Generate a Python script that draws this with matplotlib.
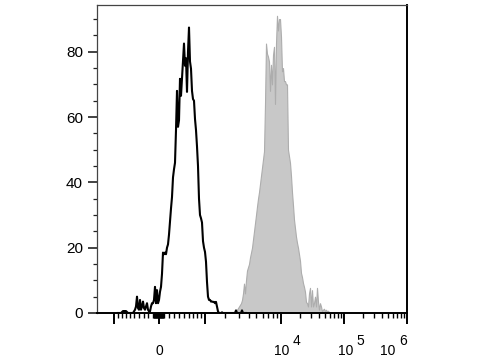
import numpy as np
import matplotlib
matplotlib.use("Agg")
import matplotlib.pyplot as plt
from matplotlib.ticker import FixedLocator, MultipleLocator, NullFormatter

plt.rcParams['font.family'] = ['Liberation Sans', 'DejaVu Sans']

# biex-style axis: display channel (0 = left edge, 310 = right edge) of each value
axis_vals = [-1e4, -1e3, 0, 1e3, 1e4, 1e5, 1e6, 1e7]
axis_chan = [-29, 17, 61.5, 108, 184, 247, 310, 373]
COF = 1000.0
G = np.arcsinh(np.array(axis_vals) / COF)

def to_chan(v):
    return np.interp(np.arcsinh(np.asarray(v, dtype=float) / COF), G, axis_chan)

def to_val(ch):
    return COF * np.sinh(np.interp(np.asarray(ch, dtype=float), axis_chan, G))

# histogram counts, one per display channel
black_start = 21
black_counts = [0, 0, 0, 0, 0.3, 0.6, 0.6, 0.6, 0.6, 0.3,
                0, 0, 0, 0, 0, 0, 0.5, 1, 2, 5,
                1.5, 1, 4, 1, 2, 3.5, 1.5, 1, 2, 3,
                1, 0.5, 0.5, 2, 3, 3, 4, 8, 3, 7,
                3, 4, 6.5, 8, 12, 18.5, 18, 18.5, 18, 20,
                21, 24, 28, 32, 35.5, 41.5, 44, 46, 56, 68,
                57, 59, 71.7, 66.5, 72, 77, 82.5, 75.7, 78, 67.7,
                80, 87.4, 77, 74.8, 68, 65.5, 65, 59.4, 56, 51,
                45, 35, 30, 29, 27.7, 22, 20, 18.7, 15.7, 9.5,
                5, 4, 4, 3.5, 3.5, 3.4, 3.4, 3, 3.4, 2,
                0.5, 0, 0, 0, 0.2, 0, 0, 0, 0, 0,
                0, 0, 0, 0, 0, 0, 0, 0, 0.8, 0,
                0, 0, 0, 0, 0.8, 0, 0, 0, 0]

gray_start = 137
gray_counts = [0, 0, 0.5, 1, 1.5, 2, 2.5, 3, 4, 6,
               9, 6, 10, 13, 14, 15, 17, 18.5, 20, 22.5,
               25, 27.5, 30, 32.6, 35, 37, 39.5, 42, 44.5, 47,
               49.5, 64, 82.5, 79.4, 78.5, 77, 68, 76, 70, 79,
               81.5, 64, 82.5, 91, 86.5, 90, 90, 84.6, 74, 75,
               71, 71, 70, 70, 50, 48, 46, 42, 37, 33,
               28.6, 26, 23.4, 21.5, 20, 18, 16, 12.3, 11, 9.2,
               8, 6.5, 3.4, 3, 2, 6, 7.7, 2, 7, 2,
               3, 5, 2, 7.7, 3.5, 1, 3, 2, 0.5, 1,
               1.3, 0.5, 1, 0.5, 0.7, 0.3, 0]

major_vals = [-1e3, 0, 1e3, 1e4, 1e5, 1e6]
y_ticks = [0, 20, 40, 60, 80]

bx = to_val(black_start + np.arange(len(black_counts)))
gx = to_val(gray_start + np.arange(len(gray_counts)))

fig = plt.figure(figsize=(4.8, 3.6), dpi=100)
ax = fig.add_axes([97/480, 47/360, 310/480, 308/360])
ax.set_xscale('function', functions=(to_chan, to_val))

ax.fill_between(gx, gray_counts, 0, facecolor='#c8c8c8', edgecolor='#adadad', lw=0.8, zorder=2)
ax.plot(bx, black_counts, color='black', lw=1.5, zorder=3)

ax.set_xlim(to_val(0), 1e6)
ax.set_ylim(0, 94.3)

# x ticks
minor = []
for d in [10, 100]:
    minor += [k * d for k in range(1, 10)] + [-k * d for k in range(1, 10)]
for d in [1e3, 1e4, 1e5]:
    minor += [k * d for k in range(2, 10)]
minor = [m for m in minor if m not in major_vals]
ax.xaxis.set_major_locator(FixedLocator(major_vals))
ax.xaxis.set_minor_locator(FixedLocator(minor))
ax.xaxis.set_major_formatter(NullFormatter())
ax.xaxis.set_minor_formatter(NullFormatter())
ax.tick_params(axis='x', which='major', direction='out', length=7.6, width=1.4, color='black')
ax.tick_params(axis='x', which='minor', direction='out', length=3.6, width=1.0, color='black')

# x labels: "0", "10" + exponent
def xlabel(v, txt, dx, exp=None):
    ax.annotate(txt, xy=(v, 0), xycoords=('data', 'axes fraction'),
                xytext=(dx, -30.2), textcoords='offset points',
                ha='center', va='baseline', fontsize=10, annotation_clip=False)
    if exp:
        ax.annotate(exp, xy=(v, 0), xycoords=('data', 'axes fraction'),
                    xytext=(dx + 7.8, -23.2), textcoords='offset points',
                    ha='left', va='baseline', fontsize=10, annotation_clip=False)

xlabel(0, '0', 0.3)
xlabel(1e4, '10', 0.3, '4')
xlabel(1e5, '10', 1.0, '5')
xlabel(1e6, '10', -13.7, '6')

# y ticks
ax.set_yticks(y_ticks)
ax.yaxis.set_minor_locator(MultipleLocator(5))
ax.tick_params(axis='y', which='major', direction='out', length=6.5, width=1.2,
               pad=3.6, labelsize=11, color='#222222')
ax.tick_params(axis='y', which='minor', direction='out', length=3.2, width=0.9, color='#222222')

for s in ['left', 'top']:
    ax.spines[s].set_linewidth(0.9)
    ax.spines[s].set_color('#444444')
for s in ['right', 'bottom']:
    ax.spines[s].set_linewidth(1.4)
    ax.spines[s].set_color('black')

fig.savefig('out.png', dpi=100)
